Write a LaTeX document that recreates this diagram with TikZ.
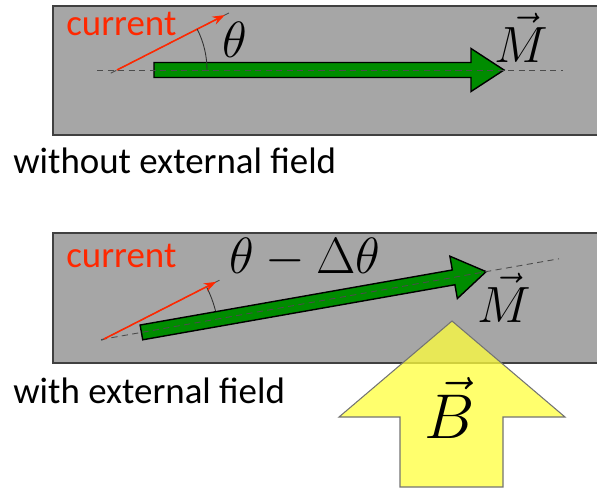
\RequirePackage{fix-cm}
\documentclass[tikz,border=0pt]{standalone}
\usepackage{amsmath}
\usepackage{fontspec}
\setmainfont{Carlito}
\usetikzlibrary{arrows.meta,calc}

\begin{document}
\begin{tikzpicture}[x=0.02cm,y=0.02cm,
    panel/.style={fill=black!35,draw=black!75,line width=0.8pt},
    magnet/.style={fill={rgb,255:red,0;green,140;blue,0},draw=black,line width=0.8pt},
    axisline/.style={draw=black!70,line width=0.5pt,dash pattern=on 3.5pt off 2.5pt},
    currentarrow/.style={draw={rgb,255:red,255;green,40;blue,0},line width=0.9pt,-{Stealth[length=7pt,width=5pt]}},
    anglearc/.style={draw=black!80,line width=0.5pt},
    fieldarrow/.style={fill={rgb,255:red,255;green,255;blue,60},fill opacity=0.75,draw=black!55,line width=0.6pt},
    lbl/.style={inner sep=0pt,font=\fontsize{21}{25}\selectfont},
    curlbl/.style={lbl,text={rgb,255:red,255;green,40;blue,0}},
    mathlbl/.style={inner sep=0pt,font=\fontsize{29}{34}\selectfont}]
  \useasboundingbox (0,0) rectangle (597,488);

  \draw[panel] (53,482) rectangle (610,353);
  \coordinate (O1) at (117,418);
  \coordinate (A1s) at ($(O1)+(-20,0)$);
  \coordinate (A1e) at ($(O1)+(446,0)$);
  \coordinate (D1s) at ($(O1)+(207:7)$);
  \coordinate (D1e) at ($(O1)+(27:128)$);
  \coordinate (C1) at ($(O1)+(27:121)$);
  \begin{scope}[shift={(O1)}]
    \fill[magnet] (37,7.5) -- (354,7.5) -- (354,21.5) -- (387,0)
      -- (354,-21.5) -- (354,-7.5) -- (37,-7.5) -- cycle;
  \end{scope}
  \draw[axisline] (A1s) -- (A1e);
  \draw[axisline] (D1s) -- (D1e);
  \draw[currentarrow] (O1) -- (C1);
  \draw[anglearc] ($(O1)+(0:90)$) arc[start angle=0,end angle=27,radius=90];
  \node[curlbl,anchor=base west] (cur1) at (66,453) {current};
  \node[mathlbl,anchor=base] (th1) at (235,431) {$\theta$};
  \node[mathlbl,anchor=base] (M1) at (521,426) {$\vec{M}$};
  \node[lbl,anchor=base west] (txt1) at (13,315) {without external field};

  \draw[panel] (53,255) rectangle (610,125);
  \coordinate (O2) at (104,149);
  \coordinate (A2s) at ($(O2)+(190:3)$);
  \coordinate (A2e) at ($(O2)+(10:462)$);
  \coordinate (D2s) at ($(O2)+(207:3)$);
  \coordinate (D2e) at ($(O2)+(27:134)$);
  \coordinate (C2) at ($(O2)+(27:126)$);
  \draw[anglearc] ($(O2)+(10:115)$) arc[start angle=10,end angle=27,radius=115];
  \begin{scope}[shift={(O2)},rotate=10]
    \fill[magnet] (38,7.5) -- (355,7.5) -- (355,21.5) -- (388,0)
      -- (355,-21.5) -- (355,-7.5) -- (38,-7.5) -- cycle;
  \end{scope}
  \draw[axisline] (A2s) -- (A2e);
  \draw[axisline] (D2s) -- (D2e);
  \draw[currentarrow] (O2) -- (C2);
  \node[curlbl,anchor=base west] (cur2) at (66,221) {current};
  \node[mathlbl,anchor=base] (th2) at (305,215) {$\theta-\Delta\theta$};
  \node[mathlbl,anchor=base] (M2) at (504,166) {$\vec{M}$};
  \node[lbl,anchor=base west] (txt2) at (13,85) {with external field};

  \filldraw[fieldarrow] (452,167) -- (565,71) -- (503,71) -- (503,1)
    -- (400,1) -- (400,71) -- (339,71) -- cycle;
  \node[inner sep=0pt,anchor=base,font=\fontsize{36}{42}\selectfont] (B) at (450,50) {$\vec{B}$};
\end{tikzpicture}
\end{document}
